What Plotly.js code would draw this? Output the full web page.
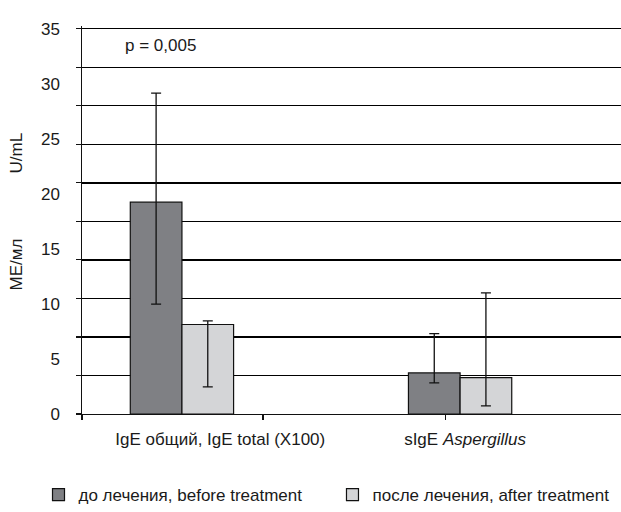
<!DOCTYPE html>
<html><head><meta charset="utf-8">
<script src="https://cdn.plot.ly/plotly-3.0.1.min.js"></script>
<style>html,body{margin:0;padding:0;background:#fff}#c{width:621px;height:512px}</style>
</head><body><div id="c"></div>
<script>
const categories = [0, 1];
const categoryLabels = ['IgE общий, IgE total (X100)', 'sIgE <i>Aspergillus</i>'];
const seriesNames = ['до лечения, before treatment', 'после лечения, after treatment'];
const beforeValues = [19.24, 3.73];
const beforeErrPlus = [9.91, 3.58];
const beforeErrMinus = [9.26, 0.91];
const afterValues = [8.13, 3.31];
const afterErrPlus = [0.33, 7.70];
const afterErrMinus = [5.67, 2.58];
const yTickValues = [0, 5, 10, 15, 20, 25, 30, 35];

const FONT = 'Liberation Sans, Arial, sans-serif';
const TXT = '#1a1a1a';
const xr = [-0.3593, 1.5785];
const yr = [0, 35.25];

const errStyle = (p, m) => ({type:'data', symmetric:false, array:p, arrayminus:m,
  color:'#111', thickness:1.3, width:5});

const data = [
  {type:'bar', x:categories, y:beforeValues, name:seriesNames[0], legend:'legend',
   marker:{color:'#7f8084', line:{color:'#111', width:1.2}},
   error_y: errStyle(beforeErrPlus, beforeErrMinus)},
  {type:'bar', x:categories, y:afterValues, name:seriesNames[1], legend:'legend2',
   marker:{color:'#d4d5d7', line:{color:'#111', width:1.2}},
   error_y: errStyle(afterErrPlus, afterErrMinus)},
  {type:'scatter', x:[], y:[], xaxis:'x2', yaxis:'y2', showlegend:false, hoverinfo:'skip'}
];

const legendBase = {orientation:'h', xref:'container', yref:'container', y:0.033,
  xanchor:'left', yanchor:'middle', font:{family:FONT, size:17, color:TXT}, itemwidth:30,
  bgcolor:'rgba(0,0,0,0)'};

const layout = {
  width:621, height:512,
  margin:{l:82, r:0, t:26, b:98, pad:0},
  paper_bgcolor:'#fff', plot_bgcolor:'#fff',
  font:{family:FONT, size:17, color:TXT},
  barmode:'group', bargap:0.6286, bargroupgap:0,
  showlegend:true,
  legend:Object.assign({}, legendBase, {x:0.062}),
  legend2:Object.assign({}, legendBase, {x:0.5354}),
  xaxis:{type:'linear', range:xr, tickvals:[0.1376, 1.018], ticktext:categoryLabels,
    ticks:'', showgrid:false, zeroline:false, showline:true, linecolor:'#111', linewidth:1.3,
    ticklabelstandoff:9, tickfont:{family:FONT, size:17, color:TXT}, fixedrange:true},
  yaxis:{range:yr, tick0:0, dtick:3.5, showgrid:true, gridcolor:'#000', gridwidth:1.3,
    ticks:'outside', ticklen:5, tickcolor:'#111', tickwidth:1.2, showticklabels:false,
    showline:true, linecolor:'#111', linewidth:1.3, zeroline:false},
  xaxis2:{overlaying:'x', anchor:'y2', range:xr, tickvals:[-0.3593, 0.291, 0.9487],
    ticks:'outside', ticklen:5, tickcolor:'#111', tickwidth:1.3, showticklabels:false,
    showgrid:false, zeroline:false, showline:false},
  yaxis2:{overlaying:'y', anchor:'x2', side:'left', range:yr, tickvals:yTickValues,
    ticks:'', showgrid:false, zeroline:false, showline:false, ticklabelstandoff:21,
    tickfont:{family:FONT, size:17, color:TXT}},
  annotations:[
    {text:'p = 0,005', xref:'paper', yref:'paper', x:0.145, y:0.9506, xanchor:'center', yanchor:'middle',
     showarrow:false, font:{family:FONT, size:17, color:TXT}},
    {text:'U/mL', xref:'paper', yref:'paper', x:-0.1218, y:0.6725, xanchor:'center', yanchor:'middle',
     textangle:-90, showarrow:false, font:{family:FONT, size:17, color:TXT}},
    {text:'МЕ/мл', xref:'paper', yref:'paper', x:-0.1218, y:0.3865, xanchor:'center', yanchor:'middle',
     textangle:-90, showarrow:false, font:{family:FONT, size:17, color:TXT}}
  ]
};
Plotly.newPlot('c', data, layout, {displayModeBar:false, staticPlot:true});
</script></body></html>
